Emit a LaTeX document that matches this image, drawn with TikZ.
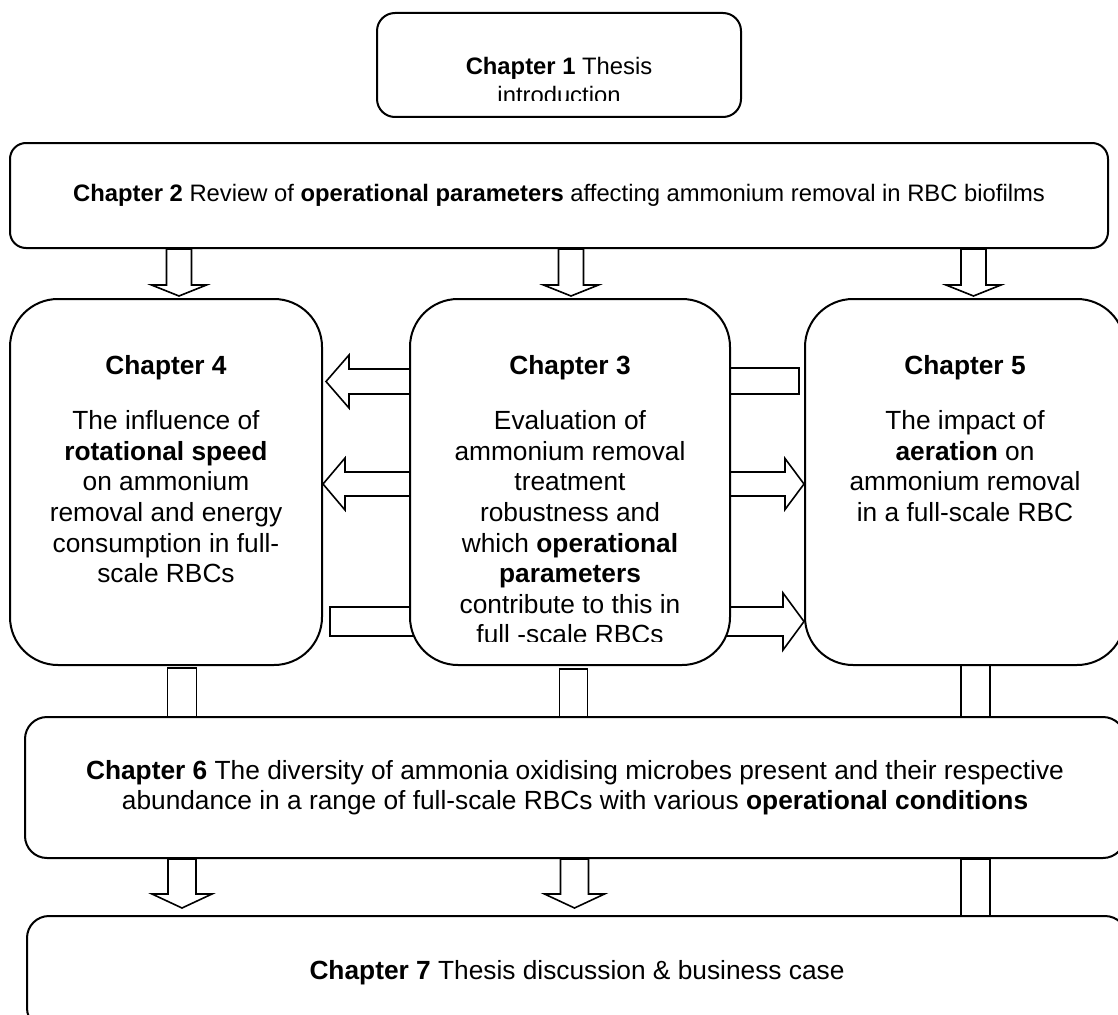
\documentclass[tikz,border=0pt]{standalone}
\usepackage{fontspec}
\setmainfont{Liberation Sans}
\usetikzlibrary{positioning, calc, backgrounds}

\newcommand{\chtext}{\fontsize{26.3pt}{30.6pt}\selectfont}
\newcommand{\toptext}{\fontsize{23.8pt}{28.5pt}\selectfont}

\begin{document}
\begin{tikzpicture}[
        x = 1pt, y = -1pt,
        on grid,
        box/.style = {draw, line width = 2pt, fill = white, inner sep = 0pt, align = center},
        column/.style = {box, rounded corners = 48pt, minimum width = 320pt, minimum height = 366pt},
        band/.style = {box, rounded corners = 22pt, minimum width = 1100pt, font = \chtext},
        body/.style = {anchor = north, inner sep = 0pt, align = center},
        blk/.style = {draw, line width = 1.6pt, fill = white},
        down arrow/.style n args = {3}{blk, to path = {let \p1=(\tikztostart), \p2=(\tikztotarget) in
            (\x1-#1,\y1) -- (\x1-#1,\y2+#3) -- (\x1-#2,\y2+#3) -- (\x1,\y2)
            -- (\x1+#2,\y2+#3) -- (\x1+#1,\y2+#3) -- (\x1+#1,\y1) -- cycle}},
        left arrow/.style n args = {3}{blk, to path = {let \p1=(\tikztostart), \p2=(\tikztotarget) in
            (\x1,\y1+#1) -- (\x2+#3,\y1+#1) -- (\x2+#3,\y1+#2) -- (\x2,\y1)
            -- (\x2+#3,\y1-#2) -- (\x2+#3,\y1-#1) -- (\x1,\y1-#1) -- cycle}},
        right arrow/.style n args = {3}{blk, to path = {let \p1=(\tikztostart), \p2=(\tikztotarget) in
            (\x1,\y1+#1) -- (\x2-#3,\y1+#1) -- (\x2-#3,\y1+#2) -- (\x2,\y1)
            -- (\x2-#3,\y1-#2) -- (\x2-#3,\y1-#1) -- (\x1,\y1-#1) -- cycle}},
        h bar/.style = {blk, to path = {let \p1=(\tikztostart), \p2=(\tikztotarget) in
            (\x1,\y1-#1) rectangle (\x2,\y1+#1)}},
        v bar/.style = {blk, to path = {let \p1=(\tikztostart), \p2=(\tikztotarget) in
            (\x1-#1,\y1) rectangle (\x1+#1,\y2)}}
    ]

    \useasboundingbox (0,0) rectangle (1118,1014);


    \node[box, rounded corners = 18pt, minimum width = 364pt, minimum height = 104pt] (ch1) at (559,65) {};

    \node[box, rounded corners = 16pt, minimum width = 1098pt, minimum height = 105pt, font = \toptext]
        (ch2) [below = 130.5pt of ch1]
        {\textbf{Chapter 2} Review of \textbf{operational parameters} affecting ammonium removal in RBC biofilms};

    \node[column] (ch3) [below right = 286.5pt and 11pt of ch2] {};
    \node[column, minimum width = 312pt] (ch4) [left = 404pt of ch3] {};
    \node[column] (ch5) [right = 395pt of ch3] {};

    \node[band, minimum height = 141pt] (ch6) [below right = 305.5pt and 5pt of ch3]
        {\textbf{Chapter 6} The diversity of ammonia oxidising microbes present and their respective\\
         abundance in a range of full-scale RBCs with various \textbf{operational conditions}};
    \node[band, minimum height = 114pt] (ch7) [below right = 185.5pt and 2pt of ch6]
        {\textbf{Chapter 7} Thesis discussion \& business case};


    % texts of the boxes, cut off where the page cuts them
    \begin{scope}
        \clip ([yshift=17.5pt]ch1.south west) rectangle (ch1.north east);
        \node[body, font = \toptext] (t1) at ([yshift=-45.5pt]ch1.north)
            {\textbf{Chapter 1} Thesis\\ introduction};
    \end{scope}

    \node[body, font = \chtext] (t4) at ([yshift=-57.5pt]ch4.north)
        {\textbf{Chapter 4}\\[24.4pt] The influence of\\ \textbf{rotational speed}\\ on ammonium\\
         removal and energy\\ consumption in full-\\ scale RBCs};

    \begin{scope}
        \clip ([yshift=25pt]ch3.south west) rectangle (ch3.north east);
        \node[body, font = \chtext] (t3) at ([yshift=-57.5pt]ch3.north)
            {\textbf{Chapter 3}\\[24.4pt] Evaluation of\\ ammonium removal\\ treatment\\ robustness and\\
             which \textbf{operational}\\ \textbf{parameters}\\ contribute to this in\\ full -scale RBCs};
    \end{scope}

    \node[body, font = \chtext] (t5) at ([yshift=-57.5pt]ch5.north)
        {\textbf{Chapter 5}\\[24.4pt] The impact of\\ \textbf{aeration} on\\ ammonium removal\\ in a full-scale RBC};


    \begin{scope}[on background layer]

        \draw[down arrow = {12.5pt}{27.5pt}{11pt}] ([xshift=13pt]ch4.north |- ch2.south) to ([yshift=2pt]ch4.north);
        \draw[down arrow = {12.5pt}{27.5pt}{11pt}] ([xshift=1pt]ch3.north |- ch2.south) to ([yshift=2pt]ch3.north);
        \draw[down arrow = {12.5pt}{27.5pt}{11pt}] ([xshift=8.5pt]ch5.north |- ch2.south) to ([yshift=2pt]ch5.north);

        \draw[left arrow = {12.5pt}{26.5pt}{23pt}] ([xshift=20pt, yshift=100.5pt]ch3.west) to ([xshift=3pt]ch4.east);
        \draw[left arrow = {12pt}{26pt}{22pt}] ([xshift=20pt, yshift=-2pt]ch3.west) to (ch4.east);
        \draw[h bar = 14.5pt] ([xshift=7pt, yshift=-139.5pt]ch4.east) to ([xshift=20pt]ch3.west);

        \draw[h bar = 13pt] ([xshift=-20pt, yshift=101pt]ch3.east) to ([xshift=-5pt]ch5.west);
        \draw[right arrow = {12pt}{25.5pt}{19pt}] ([xshift=-20pt, yshift=-2pt]ch3.east) to (ch5.west);
        \draw[right arrow = {14.5pt}{28.5pt}{21pt}] ([xshift=-20pt, yshift=-139.5pt]ch3.east) to (ch5.west);

        \draw[v bar = 14.5pt] ([xshift=16pt, yshift=-2pt]ch4.south) to ([yshift=-10pt]ch6.north);
        \draw[v bar = 14pt] ([xshift=3.5pt, yshift=-3pt]ch3.south) to ([yshift=-10pt]ch6.north);
        \draw[v bar = 14.5pt] ([xshift=10.5pt, yshift=10pt]ch5.south) to ([yshift=-10pt]ch6.north);

        \draw[down arrow = {14pt}{30pt}{14pt}] ([xshift=16pt]ch4.south |- ch6.south) to ([yshift=7pt]ch7.north);
        \draw[down arrow = {14pt}{30pt}{14pt}] ([xshift=4.5pt]ch3.south |- ch6.south) to ([yshift=7pt]ch7.north);
        \draw[v bar = 14.5pt] ([xshift=10.5pt]ch5.south |- ch6.south) to ([yshift=-10pt]ch7.north);

    \end{scope}

\end{tikzpicture}
\end{document}
